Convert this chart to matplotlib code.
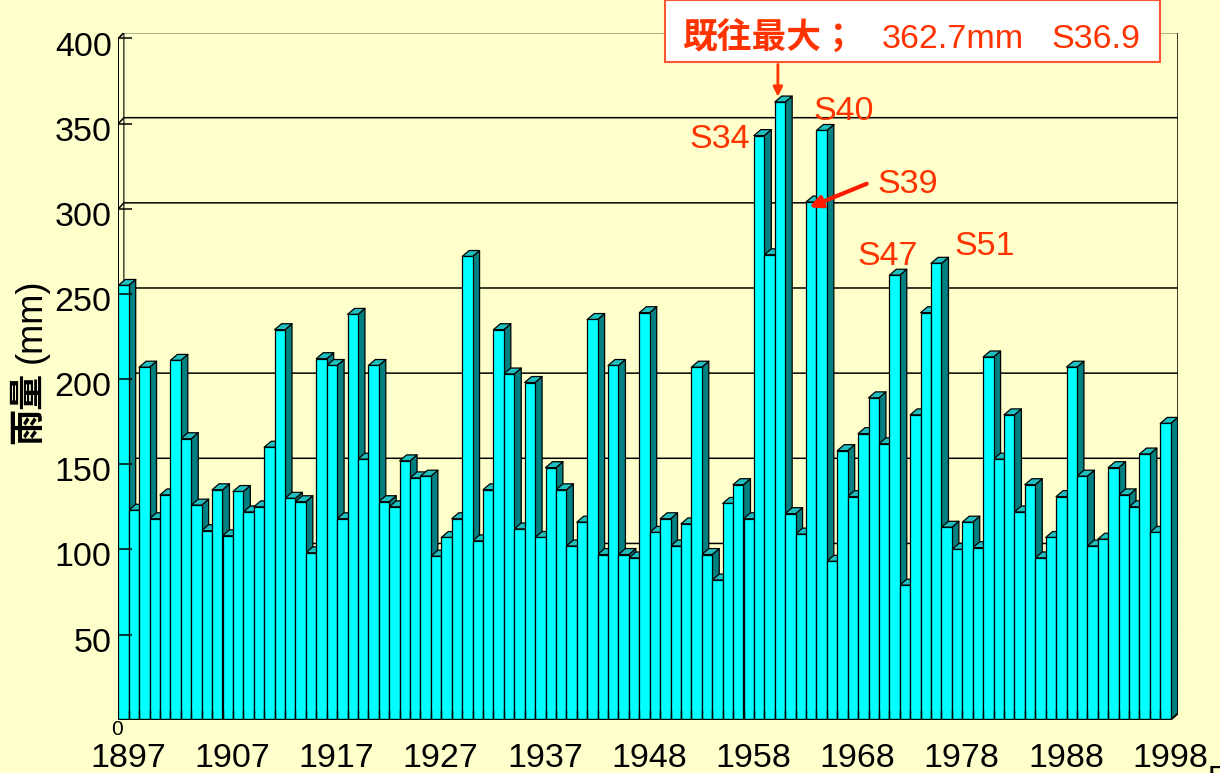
import matplotlib.pyplot as plt
import numpy as np
from matplotlib.collections import PolyCollection
from matplotlib.patches import Rectangle

# 年雨量（mm），1897-1998（1945年欠測）
rain = [255, 123, 207, 118, 132, 211, 165, 126, 111, 135,
        108, 134, 122, 125, 160, 229, 130, 128, 98, 212,
        208, 118, 238, 153, 208, 128, 125, 152, 142, 143,
        96, 107, 118, 272, 105, 135, 229, 203, 112, 198,
        107, 148, 135, 102, 116, 235, 97, 208, 97, 95,
        239, 110, 118, 102, 115, 207, 97, 82, 127, 138,
        118, 343, 273, 362.7, 121, 109, 304, 346, 93, 158,
        131, 168, 189, 162, 261, 79, 179, 239, 268, 113,
        100, 116, 101, 213, 153, 179, 122, 138, 95, 107,
        131, 207, 143, 102, 106, 148, 132, 125, 156, 110,
        174]
xlabels = ['1897', '1907', '1917', '1927', '1937', '1948',
           '1958', '1968', '1978', '1988', '1998']
yticks = [0, 50, 100, 150, 200, 250, 300, 350, 400]
# 昭和の年の注記 (ラベル, 棒の番号)
notes = [('S34', 61), ('S40', 67), ('S39', 66), ('S47', 74), ('S51', 78)]

BG = '#FFFFCC'
RED = '#FF3300'
N = len(rain)
DX, DY = 0.67, 3.5      # 奥行き (棒の単位, mm)
PX, PY = 10.42, 1.703   # 1単位あたりのピクセル
X0, Y0 = 118.3, 719.7   # 原点のピクセル位置

fig = plt.figure(figsize=(12.2, 7.73), dpi=100, facecolor=BG)
ax = fig.add_axes([X0 / 1220, (773 - Y0) / 773,
                   (N + DX) * PX / 1220, (400 + DY) * PY / 773])
ax.set_xlim(0, N + DX)
ax.set_ylim(0, 400 + DY)
ax.axis('off')

def dx(p):
    return (p - X0) / PX

def dy(p):
    return (Y0 - p) / PY

xmax = N + DX
# 壁と目盛線
ax.add_patch(plt.Polygon([(0, 0), (DX * 0.8, DY), (DX * 0.8, 400 + DY), (0, 400)],
                         facecolor=BG, edgecolor='black', lw=0.8, zorder=1))
for v in yticks:
    ax.plot([0, DX * 0.8, xmax], [v, v + DY, v + DY], color='black', lw=1.1, zorder=1)
ax.plot([xmax, xmax], [DY, 400 + DY], color='black', lw=1.1, zorder=1)

# 3D棒: 側面 -> 上面 -> 正面
x = np.arange(N)
h = np.array(rain)
sides = [[(i + 1, 0), (i + 1 + DX, DY), (i + 1 + DX, v + DY), (i + 1, v)] for i, v in zip(x, h)]
tops = [[(i, v), (i + DX, v + DY), (i + 1 + DX, v + DY), (i + 1, v)] for i, v in zip(x, h)]
ax.add_collection(PolyCollection(sides, facecolors='#008080', edgecolors='black', linewidths=0.9, zorder=2))
ax.add_collection(PolyCollection(tops, facecolors='#20C0C0', edgecolors='black', linewidths=0.9, zorder=2))
ax.bar(x, h, width=1, align='edge', color='#00FFFF', edgecolor='black', linewidth=0.9, zorder=3)

# 軸
ax.plot([0, N, N + DX], [0, 0, DY], color='black', lw=1.3, zorder=4)
ax.plot([0, 0], [0, 400], color='black', lw=1.1, zorder=4)
ax.vlines(np.arange(1, N), 0, 5.5, color='black', lw=1.0, zorder=4)
ax.hlines(yticks[1:], 0, 1.3, color='black', lw=1.1, zorder=4)

font = 'Liberation Sans'
for v in yticks[1:]:
    ax.text(-0.63, v - 10, str(v), ha='right', va='baseline', fontsize=24.5,
            family=font, clip_on=False)
ax.text(-0.12, -9, '0', ha='center', va='baseline', fontsize=15, family=font, clip_on=False)
for k, lab in enumerate(xlabels):
    ax.text(k * 10 + 0.95, -27.7, lab, ha='center', va='baseline', fontsize=24.5,
            family=font, clip_on=False)

# 縦軸ラベル
ax.text(dx(28), dy(408), '雨量', rotation=90, ha='center', va='center', fontsize=26,
        family='Noto Sans CJK JP', weight='bold', clip_on=False)
ax.text(dx(31.7), dy(321), '(mm)', rotation=90, ha='center', va='center', fontsize=26,
        family=font, clip_on=False)

# 注記
note_pos = {'S34': (720, 148.3), 'S40': (843.5, 120), 'S39': (907.5, 192.7),
            'S47': (888, 265), 'S51': (984.7, 255)}
for lab, i in notes:
    px, py = note_pos[lab]
    ax.text(dx(px), dy(py), lab, ha='center', va='baseline', fontsize=24.5,
            color=RED, family=font, zorder=6)
ax.annotate('', xy=(dx(806.7), dy(208.3)), xytext=(dx(869.3), dy(182.7)),
            arrowprops=dict(arrowstyle='-|>', color='#FF1a00', lw=3, mutation_scale=18),
            zorder=6)

# 最大値の枠
ax.add_patch(Rectangle((dx(665), dy(61.7)), dx(1160) - dx(665), dy(0.5) - dy(61.7),
                       facecolor='white', edgecolor='#FF5533', lw=1.5, clip_on=False, zorder=6))
ax.text(dx(681.7), dy(48.3), '既往最大；', ha='left', va='baseline', fontsize=25,
        color=RED, family='Noto Sans CJK JP', weight='bold', zorder=7, clip_on=False)
ax.text(dx(881.7), dy(48.3), '362.7mm', ha='left', va='baseline', fontsize=24.5,
        color=RED, family=font, zorder=7, clip_on=False)
ax.text(dx(1051.7), dy(48.3), 'S36.9', ha='left', va='baseline', fontsize=24.5,
        color=RED, family=font, zorder=7, clip_on=False)
ax.annotate('', xy=(63.3, rain[63] + 1.5), xytext=(63.3, dy(61.7)),
            arrowprops=dict(arrowstyle='-|>', color=RED, lw=2, mutation_scale=14),
            zorder=7, annotation_clip=False)

fig.text(1208 / 1220, 8 / 773, '5', ha='left', va='top', fontsize=24, family=font)

fig.savefig('out.png', dpi=100, facecolor=BG)
